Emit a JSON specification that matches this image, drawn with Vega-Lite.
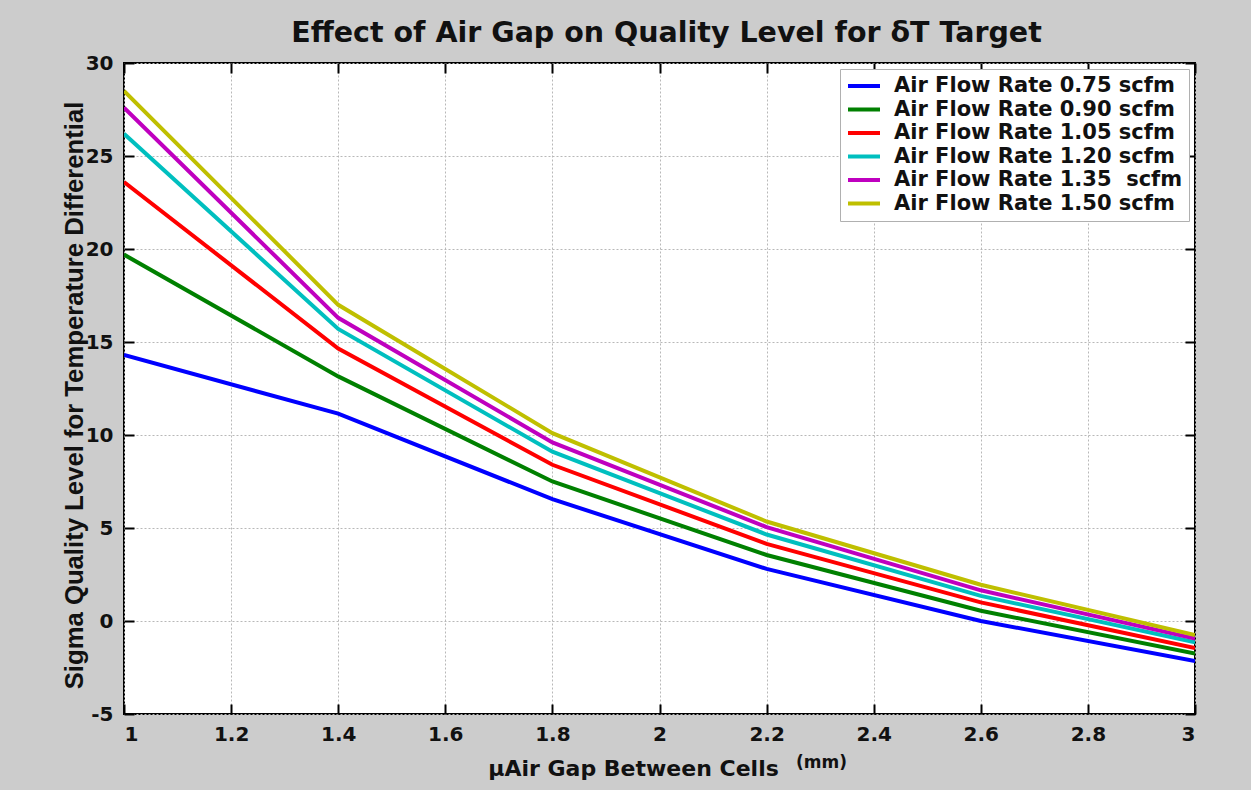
{
  "$schema": "https://vega.github.io/schema/vega-lite/v6.json",
  "autosize": {"type": "none"},
  "width": 1071,
  "height": 651,
  "padding": {"left": 124, "top": 63, "right": 56, "bottom": 76},
  "background": "#cccccc",
  "title": {
    "text": "Effect of Air Gap on Quality Level for δT Target",
    "font": "DejaVu Sans",
    "fontSize": 28.5,
    "fontWeight": "bold",
    "color": "#111111",
    "anchor": "middle",
    "dx": 7,
    "offset": 6
  },
  "config": {
    "view": {"fill": "white", "stroke": "black", "strokeWidth": 2},
    "axis": {
      "labelFont": "DejaVu Sans",
      "labelFontSize": 20,
      "labelFontWeight": "bold",
      "labelColor": "#111111",
      "titleColor": "#111111",
      "domain": false,
      "tickColor": "black",
      "tickWidth": 2,
      "tickSize": -10,
      "gridColor": "#b8b8b8",
      "gridDash": [2, 2],
      "gridWidth": 1
    }
  },
  "data": {
    "values": [
      {"gap": 1.0, "rate": "Air Flow Rate 0.75 scfm", "sigma": 14.3},
      {"gap": 1.4, "rate": "Air Flow Rate 0.75 scfm", "sigma": 11.15},
      {"gap": 1.8, "rate": "Air Flow Rate 0.75 scfm", "sigma": 6.55},
      {"gap": 2.2, "rate": "Air Flow Rate 0.75 scfm", "sigma": 2.8},
      {"gap": 2.6, "rate": "Air Flow Rate 0.75 scfm", "sigma": 0.0},
      {"gap": 3.0, "rate": "Air Flow Rate 0.75 scfm", "sigma": -2.15},
      {"gap": 1.0, "rate": "Air Flow Rate 0.90 scfm", "sigma": 19.7},
      {"gap": 1.4, "rate": "Air Flow Rate 0.90 scfm", "sigma": 13.15},
      {"gap": 1.8, "rate": "Air Flow Rate 0.90 scfm", "sigma": 7.5},
      {"gap": 2.2, "rate": "Air Flow Rate 0.90 scfm", "sigma": 3.55},
      {"gap": 2.6, "rate": "Air Flow Rate 0.90 scfm", "sigma": 0.55},
      {"gap": 3.0, "rate": "Air Flow Rate 0.90 scfm", "sigma": -1.75},
      {"gap": 1.0, "rate": "Air Flow Rate 1.05 scfm", "sigma": 23.6},
      {"gap": 1.4, "rate": "Air Flow Rate 1.05 scfm", "sigma": 14.65},
      {"gap": 1.8, "rate": "Air Flow Rate 1.05 scfm", "sigma": 8.4},
      {"gap": 2.2, "rate": "Air Flow Rate 1.05 scfm", "sigma": 4.15},
      {"gap": 2.6, "rate": "Air Flow Rate 1.05 scfm", "sigma": 1.0},
      {"gap": 3.0, "rate": "Air Flow Rate 1.05 scfm", "sigma": -1.45},
      {"gap": 1.0, "rate": "Air Flow Rate 1.20 scfm", "sigma": 26.2},
      {"gap": 1.4, "rate": "Air Flow Rate 1.20 scfm", "sigma": 15.7},
      {"gap": 1.8, "rate": "Air Flow Rate 1.20 scfm", "sigma": 9.1},
      {"gap": 2.2, "rate": "Air Flow Rate 1.20 scfm", "sigma": 4.65},
      {"gap": 2.6, "rate": "Air Flow Rate 1.20 scfm", "sigma": 1.35},
      {"gap": 3.0, "rate": "Air Flow Rate 1.20 scfm", "sigma": -1.15},
      {"gap": 1.0, "rate": "Air Flow Rate 1.35\u00a0 scfm", "sigma": 27.6},
      {"gap": 1.4, "rate": "Air Flow Rate 1.35\u00a0 scfm", "sigma": 16.3},
      {"gap": 1.8, "rate": "Air Flow Rate 1.35\u00a0 scfm", "sigma": 9.6},
      {"gap": 2.2, "rate": "Air Flow Rate 1.35\u00a0 scfm", "sigma": 5.05},
      {"gap": 2.6, "rate": "Air Flow Rate 1.35\u00a0 scfm", "sigma": 1.65},
      {"gap": 3.0, "rate": "Air Flow Rate 1.35\u00a0 scfm", "sigma": -0.95},
      {"gap": 1.0, "rate": "Air Flow Rate 1.50 scfm", "sigma": 28.5},
      {"gap": 1.4, "rate": "Air Flow Rate 1.50 scfm", "sigma": 17.0},
      {"gap": 1.8, "rate": "Air Flow Rate 1.50 scfm", "sigma": 10.1},
      {"gap": 2.2, "rate": "Air Flow Rate 1.50 scfm", "sigma": 5.35},
      {"gap": 2.6, "rate": "Air Flow Rate 1.50 scfm", "sigma": 1.95},
      {"gap": 3.0, "rate": "Air Flow Rate 1.50 scfm", "sigma": -0.75}
    ]
  },
  "layer": [
    {
      "mark": {"type": "line", "strokeWidth": 4, "clip": true},
      "encoding": {
        "x": {
          "field": "gap", "type": "quantitative",
          "scale": {"domain": [1, 3], "nice": false, "zero": false},
          "axis": {
            "orient": "bottom",
            "values": [1, 1.2, 1.4, 1.6, 1.8, 2, 2.2, 2.4, 2.6, 2.8, 3],
            "labelExpr": "'' + datum.value",
            "labelPadding": 20,
            "title": "μAir Gap Between Cells",
            "titleFont": "DejaVu Sans",
            "titleFontSize": 22,
            "titleFontWeight": "bold",
            "titlePadding": 14,
            "titleX": 509,
            "grid": true
          }
        },
        "y": {
          "field": "sigma", "type": "quantitative",
          "scale": {"domain": [-5, 30], "nice": false, "zero": false},
          "axis": {
            "orient": "left",
            "values": [-5, 0, 5, 10, 15, 20, 25, 30],
            "labelExpr": "'' + datum.value",
            "labelPadding": 21,
            "title": "Sigma Quality Level for Temperature Differential",
            "titleFont": "Liberation Sans",
            "titleFontSize": 25.7,
            "titleFontWeight": "bold",
            "titlePadding": -2,
            "titleY": 332,
            "grid": true
          }
        },
        "color": {
          "field": "rate", "type": "nominal",
          "scale": {
            "domain": ["Air Flow Rate 0.75 scfm", "Air Flow Rate 0.90 scfm", "Air Flow Rate 1.05 scfm", "Air Flow Rate 1.20 scfm", "Air Flow Rate 1.35\u00a0 scfm", "Air Flow Rate 1.50 scfm"],
            "range": ["#0000ff", "#008000", "#ff0000", "#00bfbf", "#bf00bf", "#bfbf00"]
          },
          "legend": {
            "title": null,
            "orient": "top-right",
            "offset": 6,
            "padding": 6,
            "fillColor": "white",
            "strokeColor": "#b0b0b0",
            "symbolType": "stroke",
            "symbolSize": 1024,
            "symbolStrokeWidth": 4,
            "labelFont": "DejaVu Sans",
            "labelFontSize": 21,
            "labelFontWeight": "bold",
            "labelColor": "#111111",
            "labelOffset": 12,
            "clipHeight": 22,
            "rowPadding": 1.5,
            "labelLimit": 400
          }
        }
      }
    },
    {
      "mark": {"type": "line", "opacity": 0},
      "encoding": {
        "x": {
          "field": "gap", "type": "quantitative",
          "axis": {
            "orient": "top",
            "values": [1, 1.2, 1.4, 1.6, 1.8, 2, 2.2, 2.4, 2.6, 2.8, 3],
            "labels": false, "title": null, "grid": false
          }
        },
        "y": {
          "field": "sigma", "type": "quantitative",
          "axis": {
            "orient": "right",
            "values": [-5, 0, 5, 10, 15, 20, 25, 30],
            "labels": false, "title": null, "grid": false
          }
        },
        "detail": {"field": "rate", "type": "nominal"}
      }
    },
    {
      "mark": {"type": "line", "opacity": 0},
      "encoding": {
        "x": {
          "field": "gap", "type": "quantitative",
          "axis": {
            "orient": "bottom",
            "ticks": false, "labels": false, "grid": false,
            "title": "(mm)",
            "titleFont": "DejaVu Sans",
            "titleFontSize": 17,
            "titleFontWeight": "bold",
            "titleX": 697,
            "titleY": 40
          }
        },
        "y": {"field": "sigma", "type": "quantitative", "axis": null},
        "detail": {"field": "rate", "type": "nominal"}
      }
    }
  ],
  "resolve": {"axis": {"x": "independent", "y": "independent"}}
}
